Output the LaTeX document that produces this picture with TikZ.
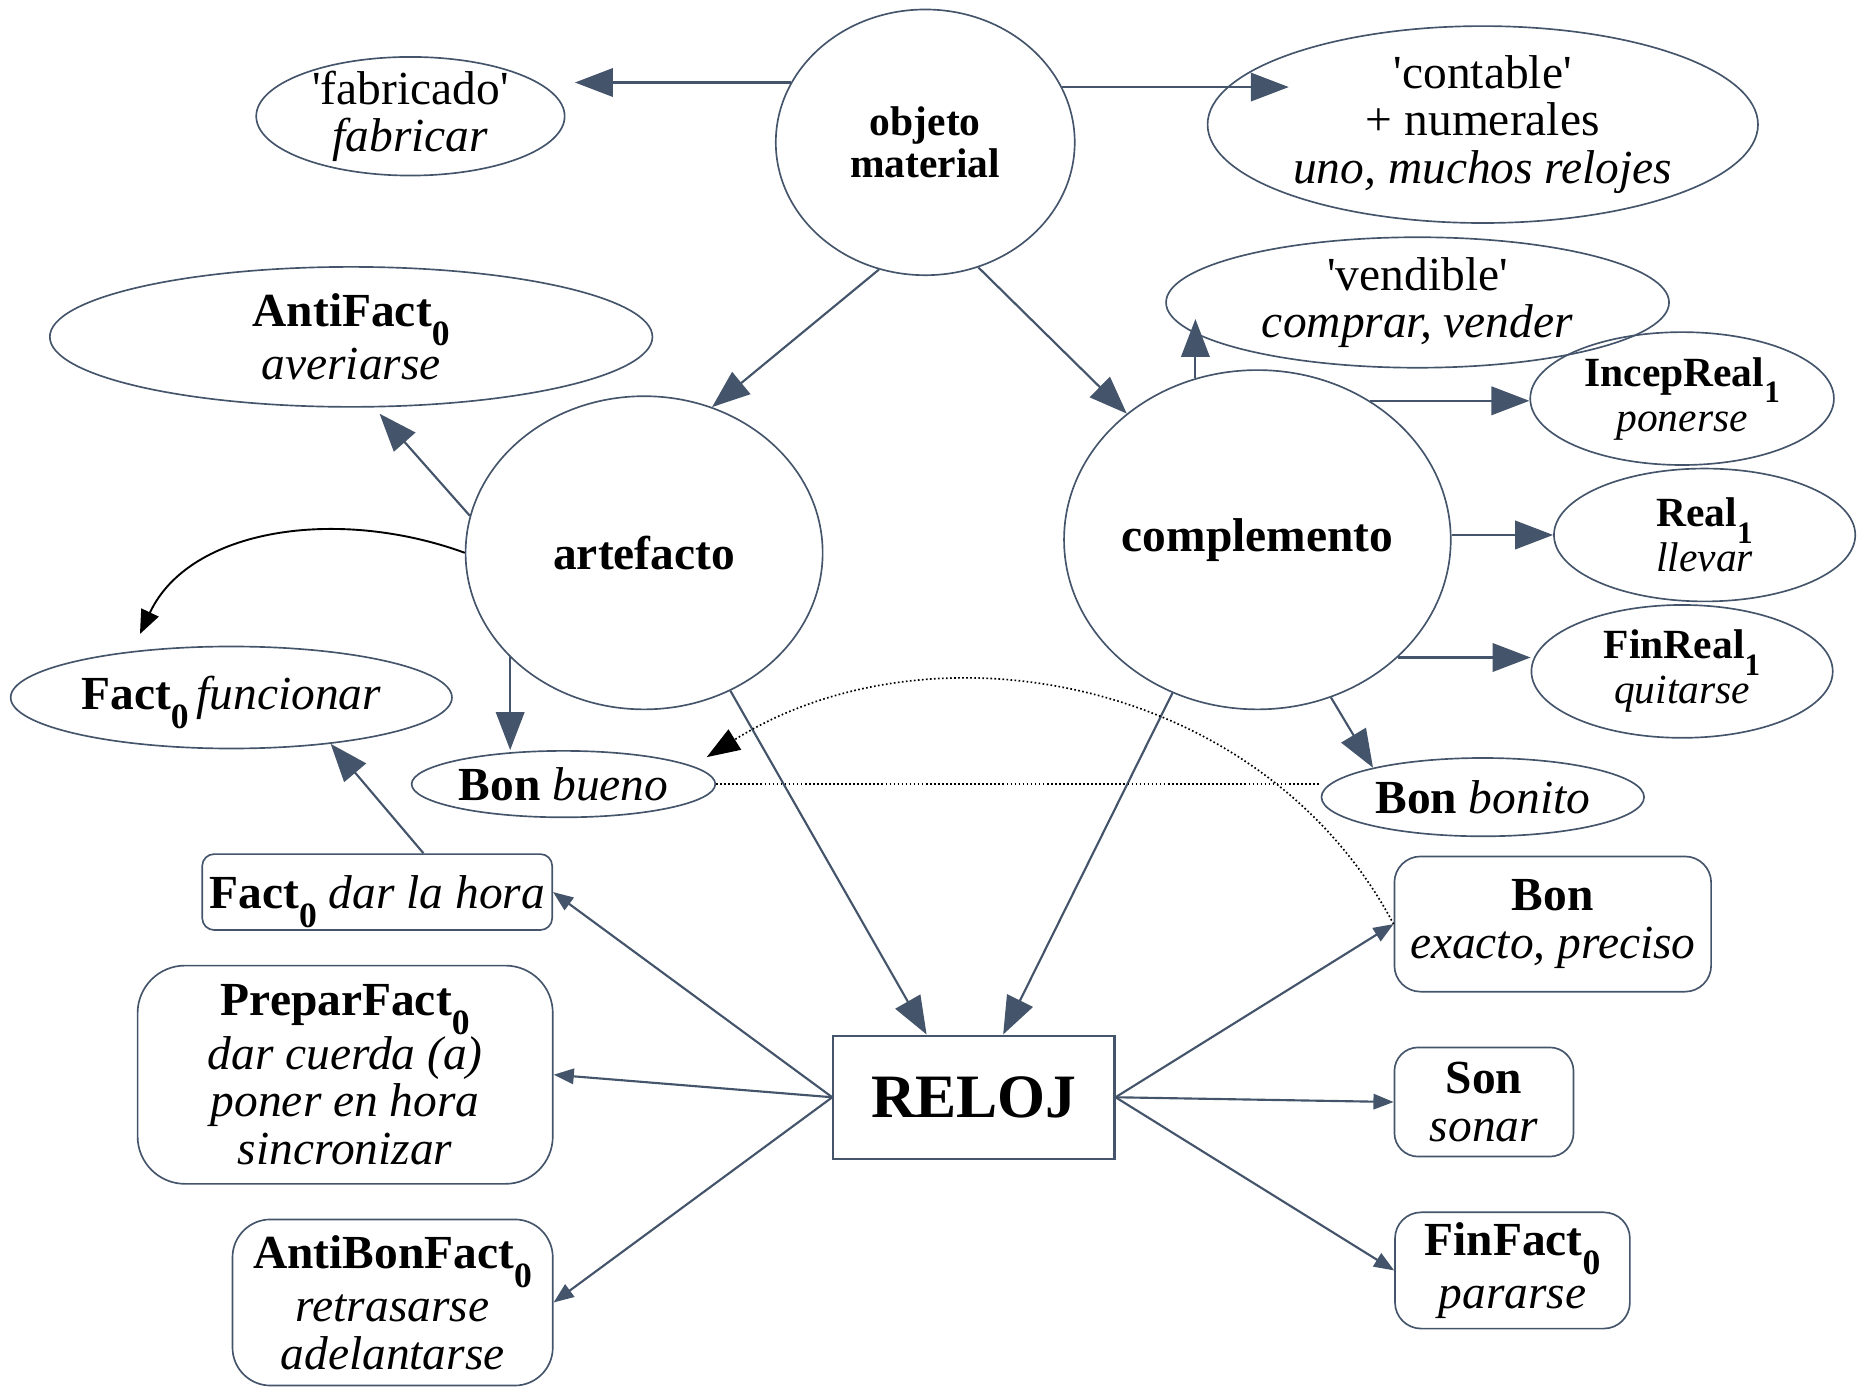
\documentclass[tikz,border=0pt]{standalone}
\usepackage{fontspec}
\setmainfont{Liberation Serif}
\usepackage{xcolor}
\usepackage{graphicx}
\usetikzlibrary{shapes.geometric,arrows.meta,positioning,calc}
\definecolor{slate}{HTML}{44546A}
\newcommand\ix[1]{\raisebox{-.4em}[0pt][0pt]{\scalebox{.75}{#1}}}

\begin{document}
\begin{tikzpicture}[x=0.5pt,y=-0.5pt,
        font=\fontsize{20}{20}\selectfont,
        oval/.style={ellipse,draw=slate,line width=0.7pt,inner sep=-3pt,align=center},
        small/.style={font=\fontsize{17.5}{17.5}\selectfont},
        box/.style={rectangle,draw=slate,line width=0.7pt,inner sep=2pt,align=center},
        arr/.style={draw=slate,line width=0.9pt,-{Triangle[length=16pt,width=12pt]}},
        sarr/.style={draw=slate,line width=0.9pt,-{Triangle[length=8.5pt,width=6.5pt]}},
        dots/.style={densely dotted,line width=0.7pt}]
        \useasboundingbox (0,0) rectangle (1568,1170);

        % upper row
        \node [oval,small,minimum width=126pt,minimum height=112pt] (OM) at (780,120) {\textbf{objeto}\\\textbf{material}};
        \node [oval,minimum width=130pt,minimum height=50pt] (Fab) at (346,98) {\textquotesingle fabricado\textquotesingle\\\textit{fabricar}};
        \node [oval,minimum width=232pt,minimum height=83pt] (Cont) at (1250,105) {\textquotesingle contable\textquotesingle\\+ numerales\\\textit{uno, muchos relojes}};
        \node [oval,minimum width=212pt,minimum height=55pt] (Vend) at (1195,255) {\textquotesingle vendible\textquotesingle\\\textit{comprar, vender}};
        \node [oval,minimum width=254pt,minimum height=59pt] (AF) at (296,284) {\textbf{AntiFact\ix{0}}\\[2.5pt]\textit{averiarse}};

        % middle
        \node [oval,minimum width=150.5pt,minimum height=132pt] (Art) at (543,466) {\textbf{artefacto}};
        \node [oval,minimum width=163pt,minimum height=143pt] (Comp) at (1060,455) {\textbf{complemento}};
        \node [oval,small,minimum width=128pt,minimum height=56pt] (IR) at (1418,336) {\textbf{IncepReal\ix{1}}\\[1.5pt]\textit{ponerse}};
        \node [oval,small,minimum width=127pt,minimum height=56pt] (R1) at (1437,451) {\textbf{Real\ix{1}}\\[1.5pt]\textit{llevar}};
        \node [oval,small,minimum width=127pt,minimum height=56pt] (FR) at (1418,566) {\textbf{FinReal\ix{1}}\\[1.5pt]\textit{quitarse}};
        \node [oval,minimum width=186pt,minimum height=43pt] (FF) at (195,588) {\textbf{Fact\ix{0}}\,\textit{funcionar}};
        \node [oval,minimum width=128pt,minimum height=28pt] (BB) at (475,661) {\textbf{Bon} \textit{bueno}};
        \node [oval,minimum width=136pt,minimum height=33pt] (BBon) at (1250,672) {\textbf{Bon} \textit{bonito}};

        % lower boxes
        \node [box,rounded corners=5pt,minimum width=147.5pt,minimum height=32pt] (FH) at (318,752) {\textbf{Fact\ix{0}} \textit{dar la hora}};
        \node [box,rounded corners=20pt,minimum width=175pt,minimum height=92pt] (PF) at (291,906) {\textbf{PreparFact\ix{0}}\\[2.5pt]\textit{dar cuerda (a)}\\\textit{poner en hora}\\\textit{sincronizar}};
        \node [box,rounded corners=16pt,minimum width=135pt,minimum height=70pt] (ABF) at (331,1098) {\textbf{AntiBonFact\ix{0}}\\[2.5pt]\textit{retrasarse}\\\textit{adelantarse}};
        \node [box,line width=0.9pt,minimum width=118.5pt,minimum height=52pt,font=\fontsize{26}{26}\selectfont\bfseries] (Rel) at (821,925) {RELOJ};
        \node [box,rounded corners=11pt,minimum width=133.5pt,minimum height=57pt] (BEx) at (1309,779) {\textbf{Bon}\\\textit{exacto, preciso}};
        \node [box,rounded corners=10pt,minimum width=75.5pt,minimum height=46pt] (Son) at (1251,929) {\textbf{Son}\\\textit{sonar}};
        \node [box,rounded corners=11pt,minimum width=99pt,minimum height=49pt] (FinF) at (1275,1071) {\textbf{FinFact\ix{0}}\\[2.5pt]\textit{pararse}};

        \coordinate (VendIn) at ($(Vend.center)!.25!(Vend.south)$);

        \draw [arr,shorten >=4pt] (OM.156) -- (OM.156 -| Fab.east);
        \draw [arr] (OM.22) -- (OM.22 -| Cont.160);
        \draw [arr] (OM.250) -- (Art.65);
        \draw [arr] (OM.293) -- (Comp.136);
        \draw [arr,shorten >=3.5pt] (Art.168) -- (AF.288);
        \draw [line width=0.8pt,-{Triangle[length=10pt,width=8pt]},shorten >=8pt] (Art.west) to[out=160,in=65] (FF.155);
        \draw [arr] (Art.218) -- (Art.218 |- BB.north);
        \draw [arr] (Art.302) -- (Rel.127);
        \draw [arr] (Comp.111) -- (Comp.111 |- VendIn);
        \draw [arr] (Comp.51) -- (Comp.51 -| IR.west);
        \draw [arr] (Comp.east |- R1.west) -- (R1.west);
        \draw [arr] (Comp.320) -- (Comp.320 -| FR.west);
        \draw [arr] (Comp.295) -- (BBon.165);
        \draw [arr] (Comp.241) -- (Rel.65);
        \draw [dots] (BB.east) -- (BB.east -| BBon.west);
        \draw [dots,-{Triangle[length=14pt,width=10pt]},shorten >=7pt] (BEx.west) to[out=118,in=32] (BB.8);
        \draw [arr] (FH.40) -- (FF.335);
        \foreach \n in {FH,PF,ABF}
            \draw [sarr] (Rel.west) -- (\n.east);
        \foreach \n in {BEx,Son,FinF}
            \draw [sarr] (Rel.east) -- (\n.west);
    \end{tikzpicture}
\end{document}
